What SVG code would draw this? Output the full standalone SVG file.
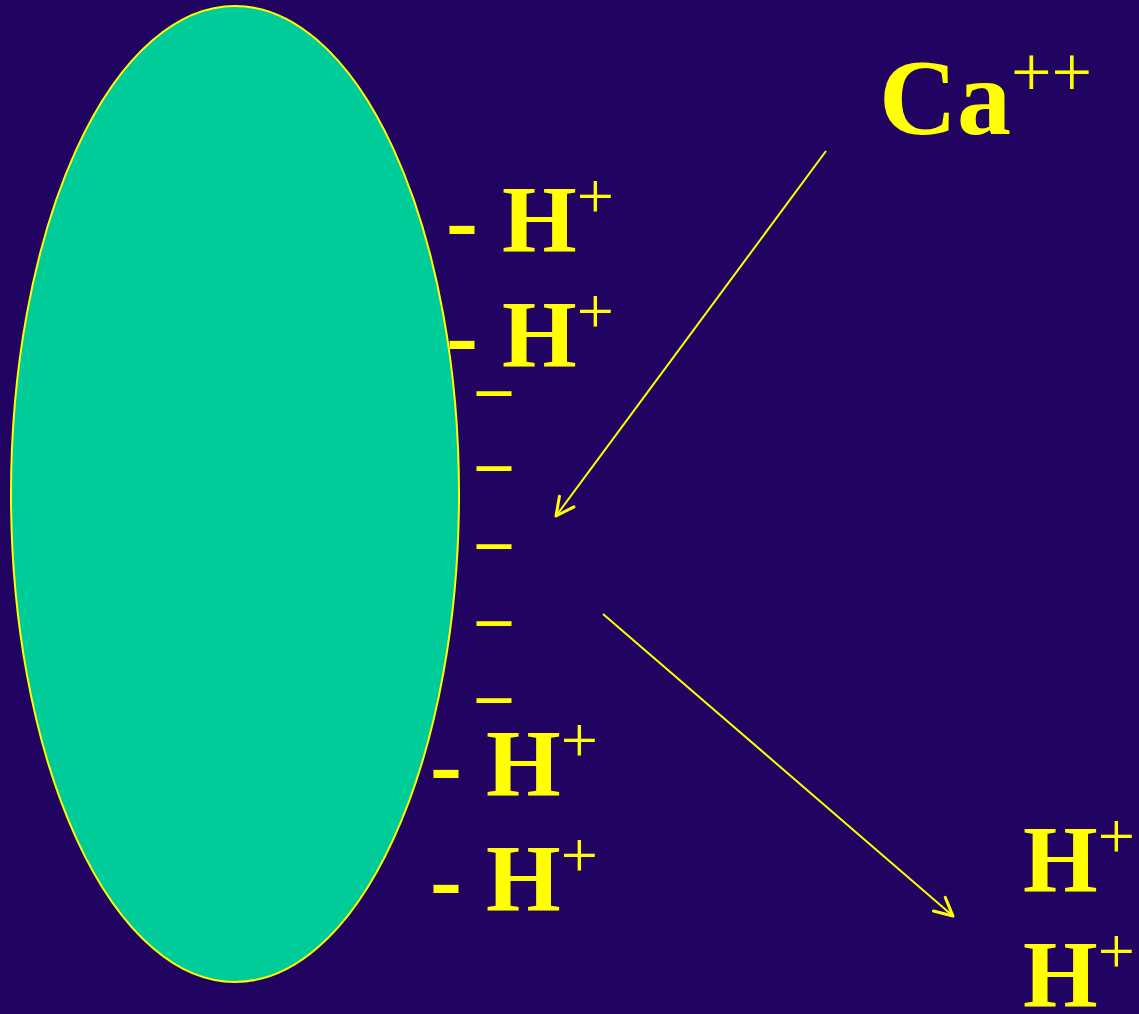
<svg xmlns="http://www.w3.org/2000/svg" width="1139" height="1014" viewBox="0 0 1139 1014">
<defs>
<style>
.lbl{font-family:"Liberation Serif","Times New Roman",serif;font-weight:bold;fill:#FFFF00;}
.sup{font-weight:normal;}
.dash{font-family:"Liberation Serif","Times New Roman",serif;font-weight:bold;fill:#FFFF00;font-size:68px;}
.conn{stroke:#FFFF00;stroke-width:2;fill:none;}
</style>
<marker id="arr" markerUnits="userSpaceOnUse" markerWidth="30" markerHeight="30" viewBox="-24 -15 30 30" refX="0" refY="0" orient="auto">
<path d="M-18,-9 L0,0 L-18,9" fill="none" stroke="#FFFF00" stroke-width="3" stroke-linecap="round" stroke-linejoin="round"/>
</marker>
</defs>
<rect width="1139" height="1014" fill="#210462"/>
<g id="cell">
<ellipse cx="235" cy="494" rx="224" ry="488" fill="#00CC99" stroke="#FFFF00" stroke-width="2"/>
</g>
<g id="ca">
<text class="lbl" x="879" y="134" font-size="108">Ca<tspan class="sup" font-size="72" dy="-38">++</tspan></text>
</g>
<g id="h1"><text class="lbl" x="446" y="252" font-size="96">- H<tspan class="sup" font-size="66" dy="-34">+</tspan></text></g>
<g id="h2"><text class="lbl" x="446" y="367" font-size="96">- H<tspan class="sup" font-size="66" dy="-34">+</tspan></text></g>
<g id="h3"><text class="lbl" x="430" y="796" font-size="96">- H<tspan class="sup" font-size="66" dy="-34">+</tspan></text></g>
<g id="h4"><text class="lbl" x="430" y="911" font-size="96">- H<tspan class="sup" font-size="66" dy="-34">+</tspan></text></g>
<g id="charges">
<text class="dash" x="477" y="408.5">–</text>
<text class="dash" x="477" y="484">–</text>
<text class="dash" x="477" y="561.5">–</text>
<text class="dash" x="477" y="638.5">–</text>
<text class="dash" x="477" y="715.5">–</text>
</g>
<g id="h5"><text class="lbl" x="1023" y="892" font-size="96">H<tspan class="sup" font-size="66" dy="-34">+</tspan></text></g>
<g id="h6"><text class="lbl" x="1023" y="1007" font-size="96">H<tspan class="sup" font-size="66" dy="-34">+</tspan></text></g>
<g id="connectors">
<line class="conn" x1="826" y1="151" x2="556" y2="516" marker-end="url(#arr)"/>
<line class="conn" x1="603" y1="614" x2="953" y2="916" marker-end="url(#arr)"/>
</g>
</svg>
